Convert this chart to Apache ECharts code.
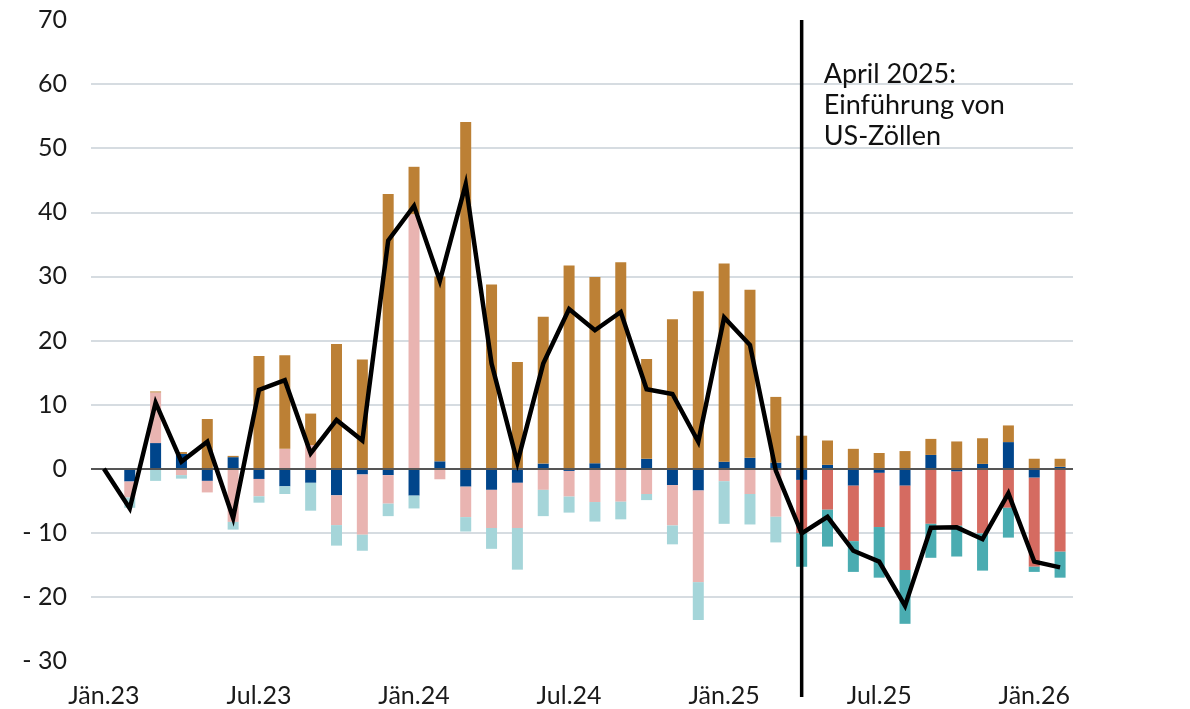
<!DOCTYPE html>
<html>
<head>
<meta charset="utf-8">
<script src="https://cdn.jsdelivr.net/npm/echarts@6/dist/echarts.min.js"></script>
<style>
html,body{margin:0;padding:0;background:#fff;}
#chart{width:1190px;height:709px;}
</style>
</head>
<body>
<div id="chart"></div>
<script>
const categories = [
  'Jän.23','Feb.23','Mär.23','Apr.23','Mai.23','Jun.23','Jul.23','Aug.23','Sep.23','Okt.23','Nov.23','Dez.23',
  'Jän.24','Feb.24','Mär.24','Apr.24','Mai.24','Jun.24','Jul.24','Aug.24','Sep.24','Okt.24','Nov.24','Dez.24',
  'Jän.25','Feb.25','Mär.25','Apr.25','Mai.25','Jun.25','Jul.25','Aug.25','Sep.25','Okt.25','Nov.25','Dez.25',
  'Jän.26','Feb.26'
];
const tariffMonth = 'Apr.25';
const annotationText = 'April 2025:\nEinführung von\nUS-Zöllen';

const blueValues = [0,-2.0,4.0,2.3,-1.9,1.8,-1.6,-2.75,-2.2,-4.15,-0.9,-1.0,
  -4.2,1.15,-2.8,-3.3,-2.2,0.8,-0.35,0.85,0,1.55,-2.55,-3.4,
  1.1,1.7,0.95,-1.75,0.6,-2.65,-0.65,-2.65,2.15,-0.45,0.75,4.15,
  -1.4,0.3];
const pinkValues = [0,-2.5,7.9,-1.0,-1.8,-8.3,-2.7,3.1,3.7,-4.65,-9.4,-4.45,
  39.7,-1.65,-4.75,-5.95,-7.05,-3.3,-4.0,-5.2,-5.15,-3.95,-6.3,-14.3,
  -1.95,-3.95,-7.5,-8.3,-6.4,-8.65,-8.45,-13.15,-8.6,-8.45,-10.1,-6.1,
  -13.9,-12.95];
const orangeValues = [0,0,0.15,0.3,7.75,0.2,17.6,14.6,4.9,19.45,17.05,42.85,
  7.4,28.85,54.1,28.75,16.65,22.9,31.7,29.05,32.2,15.55,23.3,27.7,
  30.9,26.2,10.25,5.15,3.8,3.1,2.45,2.75,2.5,4.25,4.0,2.6,
  1.55,1.25];
const tealValues = [0,-1.6,-1.9,-0.55,0,-1.2,-1.0,-1.2,-4.35,-3.2,-2.5,-1.95,
  -2.0,0,-2.25,-3.25,-6.5,-4.1,-2.5,-3.05,-2.75,-0.95,-2.95,-5.9,
  -6.65,-4.75,-4.0,-5.25,-5.75,-4.8,-7.9,-8.4,-5.3,-4.8,-5.8,-4.65,
  -0.8,-4.05];
const totalValues = [0,-6.2,10.3,1.1,4.2,-7.7,12.3,13.8,2.4,7.6,4.4,35.6,
  41.0,29.3,44.4,16.4,0.95,16.4,24.9,21.6,24.45,12.4,11.65,4.2,
  23.6,19.3,-0.3,-10.1,-7.5,-12.8,-14.5,-21.4,-9.2,-9.15,-11.0,-3.85,
  -14.5,-15.4];

const tariffIndex = categories.indexOf(tariffMonth);
const FONT = 'Lato, "Open Sans", sans-serif';

const chart = echarts.init(document.getElementById('chart'), null, {renderer: 'canvas'});

function barSeries(name, data, colorBefore, colorAfter) {
  return {
    name: name,
    type: 'bar',
    stack: 'total',
    barWidth: 11,
    data: data,
    z: 2,
    itemStyle: {
      color: function (p) { return p.dataIndex >= tariffIndex ? colorAfter : colorBefore; }
    },
    emphasis: {disabled: true}
  };
}

chart.setOption({
  animation: false,
  backgroundColor: '#ffffff',
  grid: {left: 91, right: 117, top: 20, bottom: 48, containLabel: false},
  xAxis: {
    type: 'category',
    data: categories,
    boundaryGap: true,
    axisLine: {show: false, onZero: false},
    axisTick: {show: false},
    splitLine: {show: false},
    axisLabel: {
      interval: 5,
      margin: 22,
      fontFamily: FONT,
      fontSize: 25,
      color: '#1a1a1a'
    }
  },
  yAxis: {
    type: 'value',
    min: -30,
    max: 70,
    interval: 10,
    axisLine: {show: false},
    axisTick: {show: false},
    splitLine: {
      show: true,
      showMinLine: false,
      showMaxLine: false,
      lineStyle: {color: '#c9d1d7', width: 1.5}
    },
    axisLabel: {
      margin: 24,
      fontFamily: FONT,
      fontSize: 25,
      color: '#1a1a1a',
      formatter: function (v) { return v < 0 ? '- ' + Math.abs(v) : String(v); }
    }
  },
  series: [
    barSeries('Blau', blueValues, '#00458b', '#00458b'),
    barSeries('Rosa', pinkValues, '#e9b4b1', '#d56b61'),
    barSeries('Braun', orangeValues, '#bc8035', '#bc8035'),
    barSeries('Türkis', tealValues, '#a5d5d9', '#4aacb1'),
    {
      name: 'Gesamt',
      type: 'line',
      data: totalValues,
      symbol: 'none',
      z: 5,
      lineStyle: {color: '#000000', width: 4.5, join: 'miter'},
      emphasis: {disabled: true},
      markLine: {
        silent: true,
        symbol: 'none',
        label: {show: false},
        lineStyle: {color: '#555555', width: 1.8, type: 'solid'},
        data: [{yAxis: 0}]
      }
    }
  ]
});

const x = chart.convertToPixel({xAxisIndex: 0}, tariffMonth);
const yTop = chart.convertToPixel({yAxisIndex: 0}, 70);
const yBottom = chart.convertToPixel({yAxisIndex: 0}, -30);

chart.setOption({
  graphic: [
    {
      type: 'line',
      z: 20,
      shape: {x1: x, y1: yTop, x2: x, y2: yBottom + 36},
      style: {stroke: '#000000', lineWidth: 3.5}
    },
    {
      type: 'text',
      z: 20,
      x: x + 22,
      y: yTop + 39,
      style: {
        text: annotationText,
        font: '27px ' + FONT,
        lineHeight: 31,
        fill: '#111111',
        verticalAlign: 'top'
      }
    }
  ]
});
</script>
</body>
</html>
